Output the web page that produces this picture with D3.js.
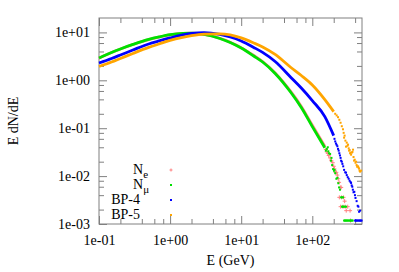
<!DOCTYPE html>
<html>
<head>
<meta charset="utf-8">
<script src="https://cdn.jsdelivr.net/npm/d3@7/dist/d3.min.js"></script>
<style>
  html, body { margin: 0; padding: 0; background: #fff; }
  svg { display: block; }
  svg text { font-family: "Liberation Serif", "Times New Roman", serif; }
</style>
</head>
<body>
<svg id="chart" width="399" height="272"></svg>
<script>
// energy grid (GeV) for the smooth part of each spectrum
const energy = [0.1, 0.15, 0.2, 0.3, 0.5, 0.7, 1, 1.5, 2, 3, 5, 7, 10, 15, 20, 30, 50, 70, 100, 150, 200];

// E dN/dE values on that grid (null = only scattered tail points)
const ne   = [2.9, 3.8, 4.5, 5.6, 7.1, 8.0, 8.9, 9.5, 9.6, 9.1, 7.55, 6.25, 4.82, 3.3, 2.47, 1.43, 0.58, 0.285, 0.115, 0.042, null];
const nmu  = [2.93, 3.82, 4.52, 5.61, 7.14, 8.05, 8.95, 9.53, 9.62, 9.08, 7.48, 6.18, 4.74, 3.22, 2.41, 1.39, 0.556, 0.27, 0.108, 0.039, null];
const bp4  = [2.3, 2.86, 3.38, 4.3, 5.74, 6.64, 7.67, 8.87, 9.53, 9.86, 9.08, 8.05, 6.64, 4.86, 3.82, 2.47, 1.15, 0.69, 0.378, 0.175, 0.07];
const bp5  = [1.94, 2.41, 2.86, 3.64, 4.86, 5.74, 6.81, 7.86, 8.53, 9.17, 9.31, 8.87, 7.67, 6.03, 4.98, 3.47, 1.85, 1.26, 0.8, 0.396, 0.222];

// scattered high-energy tails, [E, E dN/dE]
const neTail = [[155, 0.036], [160, 0.032], [165, 0.03], [170, 0.027], [178, 0.024], [185, 0.021], [194, 0.019],
  [200, 0.016], [205, 0.0141], [212, 0.0119], [218, 0.012], [225, 0.0105], [232, 0.0088], [238, 0.0074],
  [248, 0.0058], [255, 0.0058], [240, 0.0036], [258, 0.0036], [275, 0.0036], [285, 0.003],
  [250, 0.0023], [270, 0.0023], [290, 0.0023], [315, 0.0023], [300, 0.0019], [340, 0.0019], [345, 0.00118]];
const nmuTail = [[155, 0.034], [160, 0.037], [165, 0.04], [168, 0.033], [172, 0.03], [178, 0.029], [183, 0.021],
  [186, 0.024], [190, 0.017], [196, 0.014], [202, 0.0129], [206, 0.0135], [210, 0.0115], [218, 0.0088],
  [225, 0.0092], [232, 0.0071], [238, 0.0058], [245, 0.0052], [254, 0.0036], [262, 0.0036], [271, 0.0036],
  [262, 0.0023], [268, 0.0023], [275, 0.0023], [285, 0.0023], [298, 0.0023],
  [280, 0.00118], [288, 0.00118], [295, 0.00118], [303, 0.00118], [310, 0.00118], [320, 0.00118],
  [330, 0.00118], [340, 0.00118], [350, 0.00118], [360, 0.00118], [370, 0.00118]];
const bp4Tail = [[205, 0.06], [210, 0.053], [215, 0.048], [220, 0.045], [225, 0.042], [230, 0.037], [235, 0.034],
  [240, 0.03], [245, 0.027], [250, 0.024], [254, 0.021], [260, 0.02], [265, 0.018], [272, 0.016], [280, 0.0135],
  [290, 0.012], [298, 0.0118], [305, 0.0105], [315, 0.0095], [325, 0.0088], [335, 0.008], [345, 0.0075],
  [351, 0.0072], [358, 0.0064], [365, 0.006], [372, 0.0052], [380, 0.0046], [390, 0.0047], [398, 0.004],
  [405, 0.0035], [420, 0.003], [435, 0.0024], [445, 0.0023], [455, 0.0018], [470, 0.0019],
  [400, 0.00118], [410, 0.00118], [420, 0.00118], [432, 0.00118], [445, 0.00118], [458, 0.00118],
  [470, 0.00118], [482, 0.00118], [494, 0.00118]];
const bp5Tail = [[210, 0.2], [220, 0.185], [230, 0.17], [240, 0.15], [250, 0.13], [260, 0.11], [270, 0.095],
  [276, 0.08], [280, 0.0635], [285, 0.07], [292, 0.055], [298, 0.0412], [305, 0.05], [312, 0.043], [318, 0.0454],
  [325, 0.038], [329, 0.034], [335, 0.035], [340, 0.03], [346, 0.031], [351, 0.028], [360, 0.031], [367, 0.032],
  [374, 0.0356], [380, 0.025], [387, 0.021], [395, 0.022], [405, 0.019], [413, 0.02], [420, 0.017],
  [427, 0.0157], [440, 0.016], [448, 0.015], [455, 0.0143], [462, 0.013], [470, 0.0124], [486, 0.013]];

const seriesNames = ["N_e", "N_μ", "BP-4", "BP-5"];
const colors = ["#ff8080", "#00e000", "#0000ff", "#ffa500"];

const xTicks = [0.1, 1, 10, 100];
const yTicks = [1e-3, 1e-2, 1e-1, 1, 10];
const fmt = d => d.toExponential(0).replace(/e([+-])(\d)$/, "e$10$2");

const svg = d3.select("#chart");
const mLeft = 99, mRight = 362, mTop = 18, mBottom = 224;

const x = d3.scaleLog().domain([0.1, 500]).range([mLeft, mRight]);
const y = d3.scaleLog().domain([1e-3, 20]).range([mBottom, mTop]);

function minors(dom) {
  const out = [];
  for (let e = -4; e <= 3; e++) {
    [2, 4, 6, 8].forEach(m => {
      const v = m * Math.pow(10, e);
      if (v > dom[0] && v < dom[1]) out.push(v);
    });
  }
  return out;
}

const gray = "#808080";
function drawAxis(axis, tx) {
  const g = svg.append("g").attr("transform", tx).call(axis);
  g.attr("font-family", null).attr("font-size", null);
  g.select(".domain").remove();
  g.selectAll("line").attr("stroke", gray);
  g.selectAll("text").attr("fill", "#000").style("font-size", "14px");
  return g;
}

// major + minor ticks on all four sides, pointing inward
drawAxis(d3.axisBottom(x).tickValues(xTicks).tickSize(-8).tickPadding(11).tickFormat(fmt), `translate(0,${mBottom})`);
drawAxis(d3.axisBottom(x).tickValues(minors(x.domain())).tickSize(-5).tickFormat(""), `translate(0,${mBottom})`);
drawAxis(d3.axisTop(x).tickValues(xTicks).tickSize(-8).tickFormat(""), `translate(0,${mTop})`);
drawAxis(d3.axisTop(x).tickValues(minors(x.domain())).tickSize(-5).tickFormat(""), `translate(0,${mTop})`);
drawAxis(d3.axisLeft(y).tickValues(yTicks).tickSize(-8).tickPadding(9).tickFormat(fmt), `translate(${mLeft},0)`);
drawAxis(d3.axisLeft(y).tickValues(minors(y.domain())).tickSize(-5).tickFormat(""), `translate(${mLeft},0)`);
drawAxis(d3.axisRight(y).tickValues(yTicks).tickSize(-8).tickFormat(""), `translate(${mRight},0)`);
drawAxis(d3.axisRight(y).tickValues(minors(y.domain())).tickSize(-5).tickFormat(""), `translate(${mRight},0)`);

svg.append("rect")
  .attr("x", mLeft).attr("y", mTop)
  .attr("width", mRight - mLeft).attr("height", mBottom - mTop)
  .attr("fill", "none").attr("stroke", gray).attr("stroke-width", 1);

// axis titles
svg.append("text")
  .attr("x", (mLeft + mRight) / 2).attr("y", 265)
  .attr("text-anchor", "middle").style("font-size", "14px")
  .text("E (GeV)");
svg.append("text")
  .attr("transform", `translate(18,${(mTop + mBottom) / 2}) rotate(-90)`)
  .attr("text-anchor", "middle").style("font-size", "14px")
  .text("E dN/dE");

// curves
const line = d3.line()
  .defined(d => d[1] != null)
  .x(d => x(d[0])).y(d => y(d[1]))
  .curve(d3.curveMonotoneX);

const plot = svg.append("g");
const smooth = [ne, nmu, bp4, bp5];
const tails = [neTail, nmuTail, bp4Tail, bp5Tail];

smooth.forEach((vals, i) => {
  const pts = energy.map((e, j) => [e, vals[j]]);
  plot.append("path")
    .datum(pts)
    .attr("fill", "none")
    .attr("stroke", colors[i])
    .attr("stroke-width", 2.8)
    .attr("d", line);

  if (i === 0) {
    // N_e uses small crosses
    plot.append("g").selectAll("path")
      .data(tails[i]).join("path")
      .attr("d", d => `M${x(d[0]) - 2},${y(d[1])}h4M${x(d[0])},${y(d[1]) - 2}v4`)
      .attr("stroke", colors[i]).attr("stroke-width", 1);
  } else {
    plot.append("g").selectAll("rect")
      .data(tails[i]).join("rect")
      .attr("x", d => x(d[0]) - 1).attr("y", d => y(d[1]) - 1)
      .attr("width", 2).attr("height", 2)
      .attr("fill", colors[i]);
  }
});

// legend
const legend = svg.append("g");
const rows = [170, 185, 200, 215];
seriesNames.forEach((name, i) => {
  const t = legend.append("text")
    .attr("y", rows[i] + 4)
    .style("font-size", "14px");
  if (name.startsWith("N_")) {
    t.attr("x", 133);
    t.append("tspan").text("N");
    t.append("tspan").attr("dy", 4).style("font-size", "11px").text(name.slice(2));
  } else {
    t.attr("x", 140).attr("text-anchor", "end").text(name);
  }
  if (i === 0) {
    legend.append("path")
      .attr("d", `M169.5,${rows[i]}h3M171,${rows[i] - 1.5}v3`)
      .attr("stroke", colors[i]).attr("stroke-width", 1);
  } else {
    legend.append("rect")
      .attr("x", 170).attr("y", rows[i] - 1)
      .attr("width", 2).attr("height", 2)
      .attr("fill", colors[i]);
  }
});
</script>
</body>
</html>
